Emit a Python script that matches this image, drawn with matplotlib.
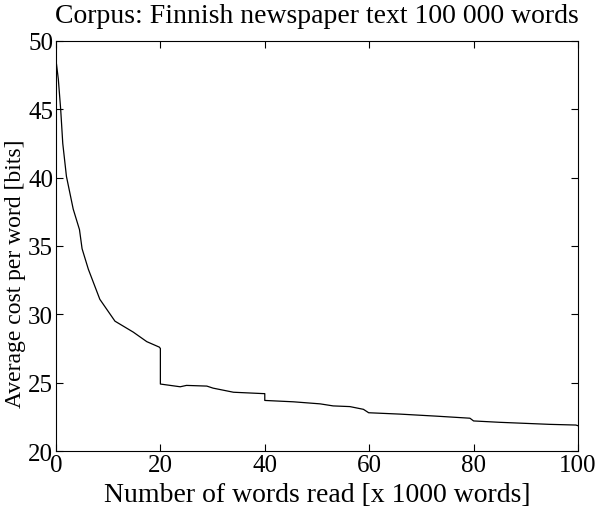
import matplotlib
matplotlib.use('Agg')
import matplotlib.pyplot as plt

plt.rcParams['font.family'] = ['Liberation Serif', 'DejaVu Serif']

# words read (x 1000) and average cost per word (bits)
words = [0.0, 0.1, 0.45, 0.9, 1.3, 2.0, 3.3, 4.5, 5.0, 6.2, 6.8, 8.4, 11.3, 14.8, 17.4, 19.8,
         20.0, 20.0, 23.8, 25.0, 28.9, 30.1, 34.0, 39.7, 40.0, 40.0, 45.5, 50.6, 53.1, 56.3,
         58.9, 59.9, 65.9, 72.9, 79.3, 80.0, 85.0, 91.4, 94.6, 99.6, 100.0]
cost = [48.5, 48.3, 47.2, 45.0, 42.5, 40.1, 37.7, 36.2, 34.8, 33.3, 32.7, 31.1, 29.5, 28.7, 28.0, 27.6,
        27.5, 24.9, 24.7, 24.8, 24.75, 24.6, 24.3, 24.2, 24.2, 23.7, 23.6, 23.45, 23.3, 23.25,
        23.05, 22.8, 22.7, 22.55, 22.4, 22.2, 22.1, 22.0, 21.95, 21.9, 21.85]

fig = plt.figure(figsize=(6.0, 5.1), dpi=100)
ax = fig.add_axes([0.0933, 0.1137, 0.87, 0.804])
ax.plot(words, cost, color='black', linewidth=0.9)

ax.set_xlim(0, 100)
ax.set_ylim(20, 50)
ax.set_xticks([0, 20, 40, 60, 80, 100])
ax.set_yticks([20, 25, 30, 35, 40, 45, 50])
ax.tick_params(direction='in', top=True, right=True, labelsize=18, length=5, pad=2)
for s in ax.spines.values():
    s.set_linewidth(0.8)

ax.set_title('Corpus: Finnish newspaper text 100 000 words', fontsize=20, pad=14)
ax.set_xlabel('Number of words read [x 1000 words]', fontsize=20)
ax.xaxis.set_label_coords(0.5, -0.075)
ax.set_ylabel('Average cost per word [bits]', fontsize=17)
ax.yaxis.set_label_coords(-0.057, 0.434)

fig.savefig('out.png', dpi=100)
